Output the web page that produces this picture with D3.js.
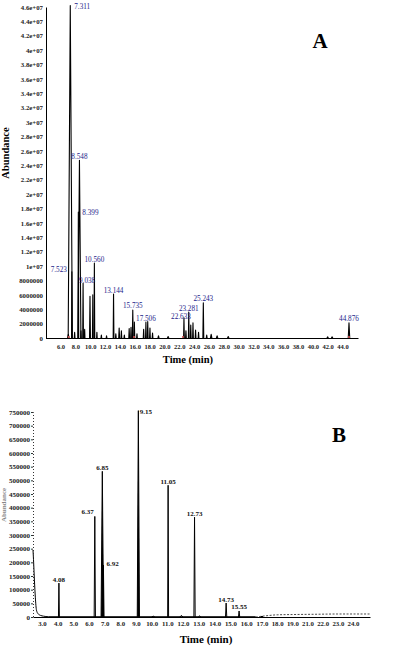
<!DOCTYPE html>
<html><head><meta charset="utf-8">
<script src="https://cdn.jsdelivr.net/npm/d3@7"></script>
<style>body{margin:0;background:#fff}svg{display:block}text{font-family:"Liberation Serif","Times New Roman",serif}</style>
</head><body><svg id="c" width="396" height="665"></svg>
<script>
// ---------- Panel A data ----------
const peakRtA    = [7.05,7.311,7.523,7.9,8.399,8.548,8.75,9.038,9.25,9.97,10.35,10.560,10.9,11.5,12.2,13.144,13.45,13.9,14.2,14.6,15.25,15.5,15.735,15.95,16.3,17.2,17.506,17.75,18.05,18.4,19.2,20.5,22.633,22.9,23.281,23.55,23.85,24.2,24.6,25.243,25.7,26.3,27.1,28.6,42.0,42.6,44.876];
const peakAbundA = [0.5e6,46.2e6,9.2e6,0.8e6,17.5e6,24.7e6,1.0e6,7.6e6,1.2e6,5.8e6,6.0e6,10.4e6,0.8e6,0.4e6,0.3e6,6.1e6,0.6e6,1.4e6,1.0e6,0.4e6,1.3e6,1.5e6,3.9e6,2.2e6,0.6e6,1.2e6,2.2e6,2.3e6,1.4e6,0.7e6,0.3e6,0.2e6,2.8e6,1.0e6,3.6e6,1.8e6,2.1e6,1.1e6,0.8e6,4.9e6,0.4e6,0.5e6,0.3e6,0.2e6,0.15e6,0.15e6,2.1e6];
const peakWidthA = [0.1,0.28,0.04,0.05,0.05,0.2,0.04,0.05,0.04,0.06,0.05,0.05,0.04,0.05,0.05,0.05,0.05,0.06,0.05,0.05,0.05,0.05,0.06,0.05,0.05,0.05,0.05,0.05,0.05,0.05,0.08,0.1,0.05,0.05,0.05,0.05,0.05,0.05,0.05,0.06,0.06,0.1,0.1,0.1,0.1,0.1,0.1];
const labelsA = ["7.311","7.523","8.548","8.399","9.038","10.560","13.144","15.735","17.506","22.633","23.281","25.243","44.876"];
const xTicksA = [6,8,10,12,14,16,18,20,22,24,26,28,30,32,34,36,38,40,42,44];
const xTickLabelsA = ["6.0","8.0","10.0","12.0","14.0","16.0","18.0","20.0","22.0","24.0","26.0","28.0","30.0","32.0","34.0","36.0","38.0","40.0","42.0","44.0"];
const yTicksA = [0,2e6,4e6,6e6,8e6,1e7,1.2e7,1.4e7,1.6e7,1.8e7,2e7,2.2e7,2.4e7,2.6e7,2.8e7,3e7,3.2e7,3.4e7,3.6e7,3.8e7,4e7,4.2e7,4.4e7,4.6e7];
const yTickLabelsA = ["0","2000000","4000000","6000000","8000000","1e+07","1.2e+07","1.4e+07","1.6e+07","1.8e+07","2e+07","2.2e+07","2.4e+07","2.6e+07","2.8e+07","3e+07","3.2e+07","3.4e+07","3.6e+07","3.8e+07","4e+07","4.2e+07","4.4e+07","4.6e+07"];

// ---------- Panel B data ----------
const peakRtB    = [4.08,6.37,6.85,6.92,9.15,10.1,11.05,11.9,12.73,13.05,14.73,15.55,17.0];
const peakAbundB = [124000,368000,533000,190000,755000,3000,482000,6000,365000,4000,51000,22000,3000];
const peakWidthB = [0.03,0.04,0.08,0.04,0.07,0.1,0.03,0.1,0.04,0.08,0.04,0.04,0.08];
const labelsB = ["4.08","6.37","6.85","6.92","9.15","11.05","12.73","14.73","15.55"];
const tailRtB    = [2.43,2.47,2.52,2.58,2.65,2.75,2.9,3.1,3.4];
const tailAbundB = [245000,200000,135000,70000,25000,12000,6000,3000,1000];
const driftRtB    = [16.6,17.2,18.0,19.0,20.5,22.0,23.5,24.1];
const driftAbundB = [0,4000,8000,9000,10000,11000,11000,11000];
const xTicksB = [3,4,5,6,7,8,9,10,11,12,13,14,15,16,17,18,19,20,21,22,23];
const xTickLabelsB = ["3.0","4.0","5.0","6.0","7.0","8.0","9.0","10.0","11.0","12.0","13.0","14.0","15.0","16.0","17.0","18.0","19.0","21.0","22.0","23.0","24.0"];
const yTicksB = [0,50000,100000,150000,200000,250000,300000,350000,400000,450000,500000,550000,600000,650000,700000,750000];
const yTickLabelsB = ["0","50000","100000","150000","200000","250000","300000","350000","400000","450000","500000","550000","600000","650000","700000","750000"];

const svg = d3.select("#c");

function peakPath(x, y, rt, h, w){
  return d3.line()([[x(rt-w), y(0)],[x(rt), y(h)],[x(rt+w), y(0)]]);
}

// ================= Panel A =================
(function(){
  const x = d3.scaleLinear().domain([4.04, 46.09]).range([46, 358]);
  const y = d3.scaleLinear().domain([0, 4.6e7]).range([338, 7]);
  const g = svg.append("g");

  g.append("path").attr("d", d3.line()([[x(4.04), y(0)+0.5],[x(46.09), y(0)+0.5]]))
    .attr("stroke","#000").attr("stroke-width",1).attr("fill","none");
  peakRtA.forEach((rt,i)=>{
    g.append("path").attr("d", peakPath(x,y,rt,peakAbundA[i],peakWidthA[i]))
      .attr("fill","none").attr("stroke","#000").attr("stroke-width",1.1).attr("stroke-linejoin","round");
  });
  [7.1,15.9,22.5,44.876].forEach(rt=>{
    g.append("circle").attr("cx",x(rt)).attr("cy",y(0)-1).attr("r",1.1).attr("fill","#d05050");
  });

  const ax = d3.axisBottom(x).tickValues(xTicksA).tickFormat((d,i)=>xTickLabelsA[i]).tickSize(0).tickPadding(6);
  const gx = g.append("g").attr("transform",`translate(0,${y(0)})`).call(ax);
  gx.select(".domain").attr("stroke","#000");
  gx.selectAll("text").attr("font-size",6.5).attr("font-weight","bold").attr("fill","#222").style("font-family","Liberation Serif");

  const ay = d3.axisLeft(y).tickValues(yTicksA).tickFormat((d,i)=>yTickLabelsA[i]).tickSize(0).tickPadding(3);
  const gy = g.append("g").attr("transform",`translate(${x(4.04)},0)`).call(ay);
  gy.select(".domain").attr("stroke","#000");
  gy.selectAll("text").attr("font-size",6.8).attr("font-weight","bold").attr("fill","#222").style("font-family","Liberation Serif");

  const place = {"7.311":"r","7.523":"l","8.399":"r","9.038":"c4","22.633":"lo","23.281":"c"};
  labelsA.forEach(lbl=>{
    const rt = +lbl; const i = peakRtA.indexOf(rt);
    const px = x(rt), py = y(peakAbundA[i]);
    const mode = place[lbl] || "c";
    const t = g.append("text").text(lbl).attr("font-size",7.2).attr("fill","#1c1c8a");
    if(mode==="r"){ t.attr("x",px+4).attr("y",py+3).attr("text-anchor","start"); }
    else if(mode==="l"){ t.attr("x",px-5).attr("y",py).attr("text-anchor","end"); }
    else if(mode==="c4"){ t.attr("x",px+4).attr("y",py-0.5).attr("text-anchor","middle"); }
    else if(mode==="lo"){ t.attr("x",px-3).attr("y",py+1).attr("text-anchor","middle"); }
    else { t.attr("x",px).attr("y",py-1.5).attr("text-anchor","middle"); }
  });

  g.append("text").text("Time (min)").attr("x",188).attr("y",363).attr("text-anchor","middle")
    .attr("font-size",10.5).attr("font-weight","bold");
  g.append("text").text("Abundance").attr("transform","translate(9,153) rotate(-90)").attr("text-anchor","middle")
    .attr("font-size",10.5).attr("font-weight","bold");
  g.append("text").text("A").attr("x",320).attr("y",48).attr("text-anchor","middle")
    .attr("font-size",21).attr("font-weight","bold");
})();

// ================= Panel B =================
(function(){
  const x = d3.scaleLinear().domain([2.43, 3, 12, 17, 23, 24.12]).range([33, 42, 183, 262, 353, 370]);
  const y = d3.scaleLinear().domain([0, 750000]).range([617, 412]);
  const g = svg.append("g");

  g.append("path").attr("d", d3.line()([[x(3.4), y(0)-0.5],[x(16.6), y(0)-0.5]]))
    .attr("stroke","#000").attr("stroke-width",0.8).attr("fill","none");
  g.append("path").attr("d", d3.line().x(d=>x(d[0])).y(d=>y(d[1])).curve(d3.curveMonotoneX)(tailRtB.map((t,i)=>[t,tailAbundB[i]])))
    .attr("fill","none").attr("stroke","#000").attr("stroke-width",1);
  g.append("path").attr("d", d3.line().x(d=>x(d[0])).y(d=>y(d[1])).curve(d3.curveMonotoneX)(driftRtB.map((t,i)=>[t,driftAbundB[i]])))
    .attr("fill","none").attr("stroke","#333").attr("stroke-width",0.9).attr("stroke-dasharray","2,1.5");
  peakRtB.forEach((rt,i)=>{
    g.append("path").attr("d", peakPath(x,y,rt,peakAbundB[i],peakWidthB[i]))
      .attr("fill", peakWidthB[i]>=0.07 && peakAbundB[i]>100000 ? "#000" : "none")
      .attr("stroke","#000").attr("stroke-width",1).attr("stroke-linejoin","round");
  });

  const ax = d3.axisBottom(x).tickValues(xTicksB).tickFormat((d,i)=>xTickLabelsB[i]).tickSize(0).tickPadding(4);
  const gx = g.append("g").attr("transform",`translate(0,${y(0)})`).call(ax);
  gx.select(".domain").attr("stroke","#000").attr("stroke-width",1);
  gx.selectAll("text").attr("font-size",6.8).attr("font-weight","bold").attr("fill","#222").style("font-family","Liberation Serif");

  const ay = d3.axisLeft(y).tickValues(yTicksB).tickFormat((d,i)=>yTickLabelsB[i]).tickSize(2).tickPadding(1);
  const gy = g.append("g").attr("transform",`translate(${x(2.43)},0)`).call(ay);
  gy.select(".domain").attr("stroke","#333").attr("stroke-dasharray","1,2");
  gy.selectAll("line").attr("stroke","#333");
  gy.selectAll("text").attr("font-size",7).attr("font-weight","bold").attr("fill","#222").style("font-family","Liberation Serif");

  const place = {"6.37":"l","6.92":"r2","9.15":"r"};
  labelsB.forEach(lbl=>{
    const rt = +lbl; const i = peakRtB.indexOf(rt);
    const px = x(rt), py = y(peakAbundB[i]);
    const mode = place[lbl] || "c";
    const t = g.append("text").text(lbl).attr("font-size",7).attr("font-weight","bold").attr("fill","#111");
    if(mode==="r"){ t.attr("x",px+1.5).attr("y",py+3).attr("text-anchor","start"); }
    else if(mode==="r2"){ t.attr("x",px+3).attr("y",py+0.5).attr("text-anchor","start"); }
    else if(mode==="l"){ t.attr("x",px-1).attr("y",py-2).attr("text-anchor","end"); }
    else { t.attr("x",px).attr("y",py-1.5).attr("text-anchor","middle"); }
  });

  g.append("text").text("Time (min)").attr("x",206).attr("y",643).attr("text-anchor","middle")
    .attr("font-size",11).attr("font-weight","bold");
  g.append("text").text("Abundance").attr("transform","translate(6,505) rotate(-90)").attr("text-anchor","middle")
    .attr("font-size",7).attr("font-weight","bold").attr("fill","#888");
  g.append("text").text("B").attr("x",339).attr("y",442).attr("text-anchor","middle")
    .attr("font-size",21).attr("font-weight","bold");
})();
</script></body></html>
